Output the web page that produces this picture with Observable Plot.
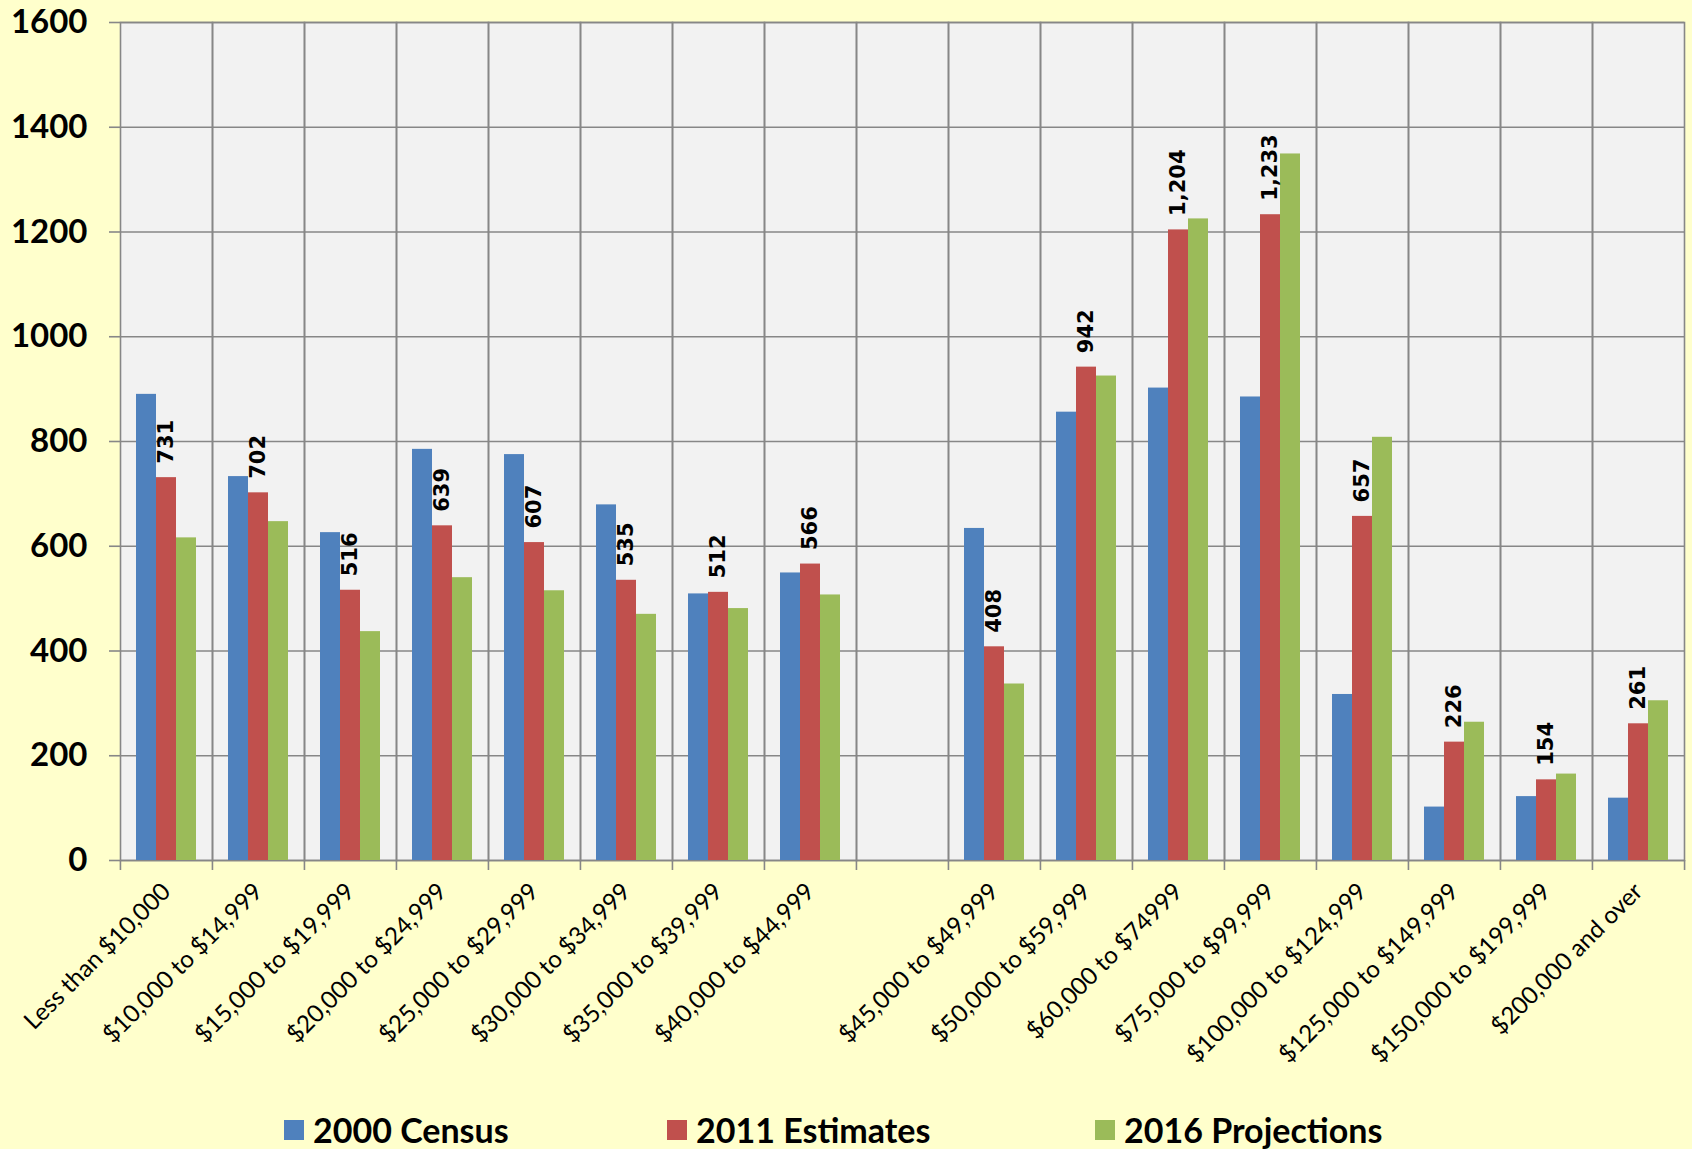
<!DOCTYPE html>
<html><head><meta charset="utf-8">
<script src="https://cdn.jsdelivr.net/npm/d3@7"></script>
<script src="https://cdn.jsdelivr.net/npm/@observablehq/plot@0.6"></script>
<style>
html,body{margin:0;padding:0;background:#FFFFCC;}
#chart{width:1692px;height:1149px;position:relative;overflow:hidden;background:#FFFFCC;}
#chart svg{display:block;}
#legend{position:absolute;left:0;top:1108px;width:1692px;height:44px;font-family:Lato,"Open Sans",sans-serif;font-weight:bold;font-size:34px;color:#000;line-height:44px;}
.item{position:absolute;top:0;display:flex;align-items:center;white-space:nowrap;}
.sw{width:20px;height:20px;margin-right:9px;}
</style></head><body>
<div id="chart"><div id="legend"></div></div>
<script>
// ---- data ----
const categories = [
  "Less than $10,000", "$10,000 to $14,999", "$15,000 to $19,999", "$20,000 to $24,999",
  "$25,000 to $29,999", "$30,000 to $34,999", "$35,000 to $39,999", "$40,000 to $44,999",
  " ",
  "$45,000 to $49,999", "$50,000 to $59,999", "$60,000 to $74999", "$75,000 to $99,999",
  "$100,000 to $124,999", "$125,000 to $149,999", "$150,000 to $199,999", "$200,000 and over"
];
const seriesNames = ["2000 Census", "2011 Estimates", "2016 Projections"];
const census2000      = [890, 733, 626, 785, 775, 679, 509, 549, null, 634, 856, 902, 885, 317, 102, 122, 119];
const estimates2011   = [731, 702, 516, 639, 607, 535, 512, 566, null, 408, 942, 1204, 1233, 657, 226, 154, 261];
const projections2016 = [616, 647, 437, 540, 515, 470, 481, 507, null, 337, 925, 1225, 1349, 808, 264, 165, 305];
const yTicks = [0, 200, 400, 600, 800, 1000, 1200, 1400, 1600];
const seriesColors = ["#4F81BD", "#C0504D", "#9BBB59"];
const labelledSeries = "2011 Estimates";
const legendLefts = [284, 667, 1095];

// ---- table ----
const seriesValues = [census2000, estimates2011, projections2016];
const rows = categories.flatMap((c, i) =>
  seriesNames.map((s, j) => ({category: c, series: s, value: seriesValues[j][i]})));

// ---- layout ----
const W = 1692, H = 1100, mL = 119, mR = 7, mT = 22, mB = 240;
const bw = (W - mL - mR) / categories.length;
const grid = "#878787";
const fmt = d3.format(",");

const chart = Plot.plot({
  width: W, height: H,
  marginLeft: mL, marginRight: mR, marginTop: mT, marginBottom: mB,
  style: {background: "#FFFFCC", color: "#000", fontFamily: "Lato, 'Open Sans', sans-serif"},
  fx: {domain: categories, padding: 0, label: null},
  x: {domain: seriesNames, paddingInner: 0, paddingOuter: 0.77, axis: null},
  y: {domain: [0, 1600], label: null},
  color: {domain: seriesNames, range: seriesColors},
  marks: [
    Plot.frame({fill: "#F2F2F2", stroke: "none"}),
    Plot.gridY({ticks: yTicks, stroke: grid, strokeOpacity: 1, strokeWidth: 1.6}),
    Plot.frame({stroke: grid, strokeWidth: 1.6}),
    Plot.axisY({ticks: yTicks, tickSize: 11, tickPadding: 22, label: null, stroke: grid, strokeWidth: 1.6,
      fontSize: 33, fontWeight: "bold", tickFormat: d => String(d)}),
    Plot.axisFx({anchor: "bottom", tickSize: 10, tickFormat: () => "", dx: -bw / 2, stroke: grid, strokeWidth: 1.6, label: null}),
    Plot.axisFx({anchor: "bottom", ticks: [categories[categories.length - 1]], tickSize: 10, tickFormat: () => "", dx: bw / 2, stroke: grid, strokeWidth: 1.6, label: null}),
    Plot.axisFx({anchor: "bottom", tickSize: 0, tickPadding: 27, tickRotate: -45, fontSize: 24.2, label: null}),
    Plot.barY(rows, {fx: "category", x: "series", y: "value", fill: "series"}),
    Plot.text(rows.filter(d => d.series === labelledSeries), {
      fx: "category", x: "series", y: "value", text: d => d.value == null ? "" : fmt(d.value),
      rotate: -90, textAnchor: "start", dy: -14, fontSize: 21, fontWeight: "bold",
      fontFamily: "'DejaVu Sans', sans-serif", fill: "#000"
    })
  ]
});
document.getElementById("chart").prepend(chart);

// ---- legend ----
const legend = document.getElementById("legend");
seriesNames.forEach((s, i) => {
  const item = document.createElement("div");
  item.className = "item";
  item.style.left = legendLefts[i] + "px";
  const sw = document.createElement("span");
  sw.className = "sw";
  sw.style.background = seriesColors[i];
  const t = document.createElement("span");
  t.textContent = s;
  item.append(sw, t);
  legend.append(item);
});
</script>
</body></html>
